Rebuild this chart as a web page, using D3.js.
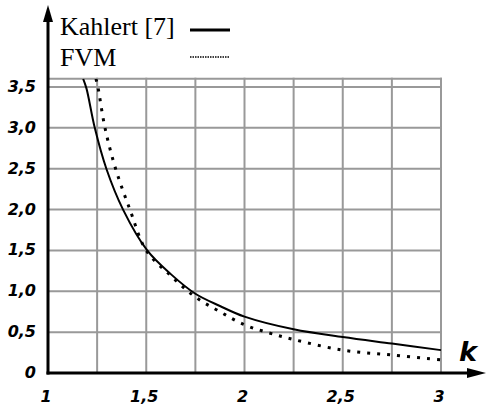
<!DOCTYPE html>
<html>
<head>
<meta charset="utf-8">
<script src="https://cdn.jsdelivr.net/npm/d3@7"></script>
<style>
body { margin: 0; background: #fff; }
.tick-lab { font-family: "DejaVu Sans", sans-serif; font-weight: bold; font-style: italic; font-size: 16px; }
.legend { font-family: "Liberation Serif", "Times New Roman", serif; font-size: 26px; }
</style>
</head>
<body>
<div id="chart"></div>
<script>
// data
var kahlert_k = [1.179, 1.196, 1.238, 1.297, 1.382, 1.505, 1.625, 1.75, 1.875, 2.0, 2.25, 2.5, 2.75, 3.0];
var kahlert_v = [3.6, 3.48, 3.0, 2.5, 2.0, 1.5, 1.21, 0.97, 0.82, 0.69, 0.535, 0.44, 0.36, 0.28];

var fvm_k = [1.244, 1.254, 1.29, 1.344, 1.417, 1.5, 1.625, 1.75, 1.875, 2.0, 2.125, 2.25, 2.5, 2.75, 3.0];
var fvm_v = [3.6, 3.5, 3.0, 2.5, 2.0, 1.5, 1.19, 0.93, 0.75, 0.59, 0.49, 0.41, 0.28, 0.22, 0.16];

var x_ticks = [1, 1.5, 2, 2.5, 3];
var x_labels = ['1', '1,5', '2', '2,5', '3'];
var y_ticks = [0, 0.5, 1, 1.5, 2, 2.5, 3, 3.5];
var y_labels = ['0', '0,5', '1,0', '1,5', '2,0', '2,5', '3,0', '3,5'];
var x_grid = [1.25, 1.5, 1.75, 2, 2.25, 2.5, 2.75, 3];
var y_grid = [0.5, 1, 1.5, 2, 2.5, 3, 3.5, 3.6];

var chart_width = 488;
var chart_height = 410;

var svg = d3.select('#chart')
	.append('svg')
	.attr('width', chart_width)
	.attr('height', chart_height);

var x_scale = d3.scaleLinear().domain([1, 3]).range([48, 441]);
var y_scale = d3.scaleLinear().domain([0, 3.5]).range([373, 87]);

// grid
svg.selectAll('.vgrid')
	.data(x_grid)
	.enter()
	.append('line')
	.attr('x1', function(d){ return x_scale(d); })
	.attr('x2', function(d){ return x_scale(d); })
	.attr('y1', y_scale(0))
	.attr('y2', y_scale(3.6) - 1)
	.attr('stroke', '#999')
	.attr('stroke-width', 2);

svg.selectAll('.hgrid')
	.data(y_grid)
	.enter()
	.append('line')
	.attr('x1', x_scale(1))
	.attr('x2', x_scale(3) + 1)
	.attr('y1', function(d){ return y_scale(d); })
	.attr('y2', function(d){ return y_scale(d); })
	.attr('stroke', '#999')
	.attr('stroke-width', 2);

// curves
svg.append('clipPath')
	.attr('id', 'clip')
	.append('rect')
	.attr('x', x_scale(1))
	.attr('y', y_scale(3.6))
	.attr('width', x_scale(3) - x_scale(1) + 2)
	.attr('height', y_scale(0) - y_scale(3.6));

var line = d3.line()
	.x(function(d){ return x_scale(d[0]); })
	.y(function(d){ return y_scale(d[1]); })
	.curve(d3.curveCatmullRom.alpha(0.5));

svg.append('path')
	.datum(d3.zip(kahlert_k, kahlert_v))
	.attr('d', line)
	.attr('clip-path', 'url(#clip)')
	.attr('fill', 'none')
	.attr('stroke', '#000')
	.attr('stroke-width', 2);

svg.append('path')
	.datum(d3.zip(fvm_k, fvm_v))
	.attr('d', line)
	.attr('clip-path', 'url(#clip)')
	.attr('fill', 'none')
	.attr('stroke', '#000')
	.attr('stroke-width', 3)
	.attr('stroke-dasharray', '3,7');

// axes lines with arrows
svg.append('line')
	.attr('x1', x_scale(1)).attr('x2', x_scale(1))
	.attr('y1', y_scale(0) + 1.5).attr('y2', 18)
	.attr('stroke', '#000').attr('stroke-width', 3);
svg.append('path')
	.attr('d', 'M' + (x_scale(1) - 5) + ',22L' + x_scale(1) + ',5L' + (x_scale(1) + 5) + ',22Z')
	.attr('fill', '#000');

svg.append('line')
	.attr('x1', x_scale(1) - 1.5).attr('x2', 470)
	.attr('y1', y_scale(0)).attr('y2', y_scale(0))
	.attr('stroke', '#000').attr('stroke-width', 3);
svg.append('path')
	.attr('d', 'M467,' + (y_scale(0) - 5) + 'L486,' + y_scale(0) + 'L467,' + (y_scale(0) + 5) + 'Z')
	.attr('fill', '#000');

// tick labels
svg.selectAll('.ylab')
	.data(y_ticks)
	.enter()
	.append('text')
	.attr('class', 'tick-lab')
	.attr('x', 36)
	.attr('y', function(d){ return y_scale(d) + 5; })
	.attr('text-anchor', 'end')
	.text(function(d, i){ return y_labels[i]; });

svg.selectAll('.xlab')
	.data(x_ticks)
	.enter()
	.append('text')
	.attr('class', 'tick-lab')
	.attr('x', function(d){ return x_scale(d) - 2; })
	.attr('y', 402)
	.attr('text-anchor', 'middle')
	.text(function(d, i){ return x_labels[i]; });

svg.append('text')
	.attr('class', 'tick-lab')
	.attr('x', 468)
	.attr('y', 361)
	.attr('text-anchor', 'middle')
	.style('font-size', '27px')
	.text('k');

// legend
svg.append('text')
	.attr('class', 'legend')
	.attr('x', 60)
	.attr('y', 35)
	.text('Kahlert [7]');
svg.append('line')
	.attr('x1', 190).attr('x2', 230)
	.attr('y1', 30).attr('y2', 30)
	.attr('stroke', '#000').attr('stroke-width', 3);

svg.append('text')
	.attr('class', 'legend')
	.attr('x', 60)
	.attr('y', 66)
	.text('FVM');
svg.append('line')
	.attr('x1', 190).attr('x2', 230)
	.attr('y1', 57).attr('y2', 57)
	.attr('stroke', '#000').attr('stroke-width', 1.5)
	.attr('stroke-dasharray', '1.5,1');
</script>
</body>
</html>
